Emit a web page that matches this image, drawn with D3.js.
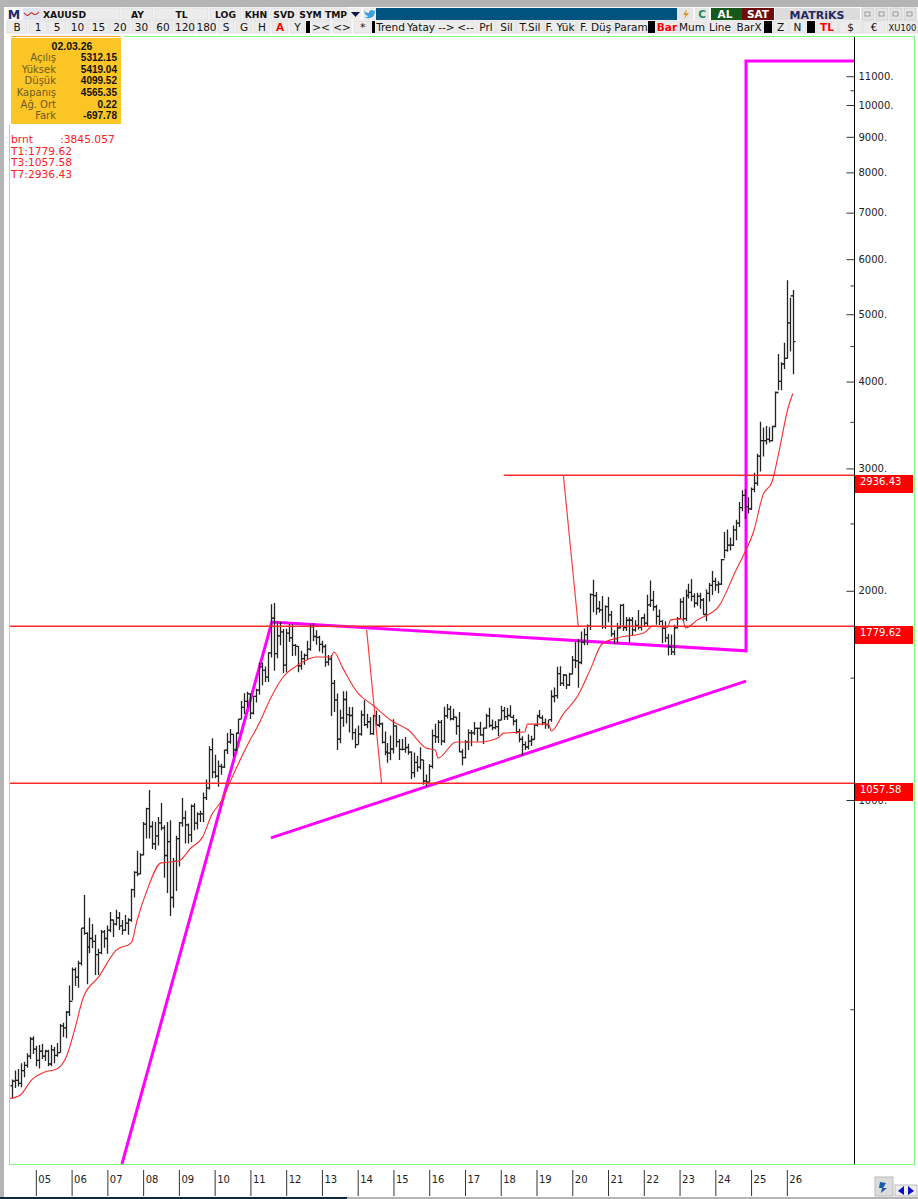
<!DOCTYPE html>
<html lang="tr">
<head>
<meta charset="UTF-8">
<title>XAUUSD</title>
<script src="https://d3js.org/d3.v7.min.js"></script>
<style>
html, body { margin: 0; padding: 0; background: #fff; overflow: hidden; }
svg { display: block; }
svg text { font-family: "DejaVu Sans", sans-serif; }
.tb text { font-size: 10.5px; fill: #111; text-anchor: middle; }
.axis path { display: none; }
</style>
</head>
<body>
<svg id="chart" width="918" height="1199"></svg>
<script>
// monthly bars, first one is May 2004
var firstYear = 2004, firstMonth = 4;

var opens = [
  388,394,395,391,408,415,428,453,
  438,422,435,428,435,417,437,429,433,473,470,495,
  513,570,556,582,654,643,614,632,626,599,603,646,
  632,650,672,663,677,659,650,665,672,743,787,783,
  834,923,972,916,865,888,927,912,832,871,724,816,
  880,927,942,921,891,980,926,954,955,1008,1040,1182,
  1097,1082,1118,1115,1180,1212,1243,1181,1248,1307,1359,1386,
  1421,1333,1410,1439,1556,1536,1502,1628,1826,1624,1722,1746,
  1563,1738,1711,1669,1664,1559,1597,1615,1648,1776,1719,1714,
  1675,1663,1579,1595,1472,1393,1223,1313,1395,1327,1323,1250,
  1201,1244,1326,1284,1296,1246,1322,1282,1287,1210,1172,1168,
  1184,1278,1213,1183,1183,1190,1172,1095,1133,1115,1142,1065,
  1061,1118,1238,1233,1293,1215,1322,1351,1309,1316,1277,1173,
  1151,1211,1249,1249,1268,1268,1241,1269,1321,1280,1271,1275,
  1303,1345,1318,1323,1315,1298,1253,1223,1201,1192,1215,1222,
  1282,1321,1313,1292,1284,1305,1409,1413,1520,1472,1513,1464,
  1517,1589,1586,1577,1686,1730,1781,1975,1968,1886,1878,1776,
  1898,1847,1734,1707,1769,1906,1770,1814,1814,1757,1783,1774,
  1829,1797,1909,1937,1897,1837,1807,1766,1711,1661,1633,1769,
  1824,1928,1824,1969,1990,1963,1919,1965,1940,1849,1983,2036,
  2063,2039,2044,2217,2286,2327,2326,2447,2503,2634,2743,2643,
  2624,2798,2857,3124,3289,3289,3303,3290,3447,3858,4003,4240,
  4320,4858,5312.15
];
var highs = [
  396,408,410,418,420,432,456,457,
  443,444,446,437,437,444,441,447,476,478,497,541,
  574,574,587,654,730,645,677,663,640,611,650,650,
  660,690,673,695,690,672,683,676,745,790,845,838,
  930,975,1034,932,930,945,990,920,930,935,825,888,
  930,1007,965,925,985,989,960,965,1025,1070,1195,1227,
  1162,1140,1128,1181,1249,1265,1245,1250,1308,1388,1424,1431,
  1424,1412,1446,1576,1577,1556,1632,1912,1921,1805,1804,1762,
  1764,1791,1792,1677,1666,1640,1625,1695,1790,1796,1755,1723,
  1695,1675,1617,1617,1488,1423,1348,1434,1434,1361,1361,1267,
  1280,1345,1392,1331,1315,1326,1345,1325,1293,1255,1208,1238,
  1307,1280,1224,1224,1232,1205,1175,1170,1157,1191,1142,1088,
  1127,1263,1287,1304,1304,1362,1375,1367,1353,1318,1338,1183,
  1220,1264,1261,1295,1271,1296,1270,1331,1357,1306,1299,1307,
  1366,1361,1356,1369,1326,1309,1266,1235,1214,1243,1237,1284,
  1326,1347,1324,1310,1304,1439,1452,1555,1557,1518,1516,1525,
  1611,1689,1704,1747,1765,1789,1984,2075,1992,1933,1965,1906,
  1959,1871,1755,1798,1912,1916,1834,1832,1834,1814,1877,1830,
  1853,1974,2070,1998,1909,1879,1814,1808,1735,1730,1787,1833,
  1949,1960,2009,2048,2079,1983,1987,1987,1953,2009,2052,2135,
  2088,2065,2222,2431,2450,2387,2483,2531,2685,2790,2801,2726,
  2817,2956,3148,3500,3435,3452,3439,3453,3871,4381,4264,4550,
  5595,5280,5419.04
];
var lows = [
  372,385,387,386,399,412,424,431,
  414,411,424,421,414,414,418,427,433,456,454,489,
  515,540,537,578,640,543,602,612,560,560,600,613,
  601,645,635,660,650,640,648,640,668,724,777,782,
  832,880,880,850,847,860,905,773,735,681,700,740,
  802,915,866,866,870,905,908,930,930,1000,1035,1075,
  1075,1045,1087,1112,1165,1205,1155,1175,1243,1309,1330,1360,
  1308,1328,1381,1417,1462,1478,1478,1604,1534,1600,1670,1523,
  1527,1688,1612,1613,1527,1540,1565,1590,1640,1692,1672,1636,
  1626,1555,1562,1321,1338,1180,1207,1275,1288,1251,1221,1187,
  1202,1237,1278,1268,1241,1240,1281,1273,1206,1160,1131,1141,
  1167,1191,1142,1178,1169,1162,1072,1077,1098,1107,1052,1046,
  1061,1110,1208,1208,1199,1208,1310,1301,1302,1241,1171,1122,
  1147,1180,1195,1240,1214,1237,1204,1266,1271,1260,1264,1236,
  1302,1303,1303,1315,1281,1245,1211,1160,1180,1182,1196,1221,
  1276,1311,1281,1266,1267,1296,1382,1400,1459,1459,1445,1459,
  1517,1548,1451,1568,1670,1671,1757,1863,1848,1860,1764,1764,
  1802,1717,1677,1677,1765,1750,1750,1684,1722,1746,1759,1753,
  1780,1780,1895,1872,1787,1785,1681,1688,1614,1617,1616,1765,
  1824,1804,1809,1950,1932,1893,1903,1884,1848,1810,1931,1973,
  2001,1984,2039,2228,2277,2286,2319,2364,2471,2603,2536,2583,
  2614,2773,2833,2970,3120,3247,3268,3281,3437,3887,3886,4170,
  4313,4420,4099.52
];
var closes = [
  394,395,391,408,415,428,453,438,
  422,435,428,435,417,437,429,433,473,470,495,513,
  570,556,582,654,643,614,632,626,599,603,646,632,
  650,672,663,677,659,650,665,672,743,787,783,834,
  923,972,916,865,888,927,912,832,871,724,816,880,
  927,942,921,891,980,926,954,955,1008,1040,1182,1097,
  1082,1118,1115,1180,1212,1243,1181,1248,1307,1359,1386,1421,
  1333,1410,1439,1556,1536,1502,1628,1826,1624,1722,1746,1563,
  1738,1711,1669,1664,1559,1597,1615,1648,1776,1719,1714,1675,
  1663,1579,1595,1472,1393,1223,1313,1395,1327,1323,1250,1201,
  1244,1326,1284,1296,1246,1322,1282,1287,1210,1172,1168,1184,
  1278,1213,1183,1183,1190,1172,1095,1133,1115,1142,1065,1061,
  1118,1238,1233,1293,1215,1322,1351,1309,1316,1277,1173,1151,
  1211,1249,1249,1268,1268,1241,1269,1321,1280,1271,1275,1303,
  1345,1318,1323,1315,1298,1253,1223,1201,1192,1215,1222,1282,
  1321,1313,1292,1284,1305,1409,1413,1520,1472,1513,1464,1517,
  1589,1586,1577,1686,1730,1781,1975,1968,1886,1878,1776,1898,
  1847,1734,1707,1769,1906,1770,1814,1814,1757,1783,1774,1829,
  1797,1909,1937,1897,1837,1807,1766,1711,1661,1633,1769,1824,
  1928,1824,1969,1990,1963,1919,1965,1940,1849,1983,2036,2063,
  2039,2044,2217,2286,2327,2326,2447,2503,2634,2743,2643,2624,
  2798,2857,3124,3289,3289,3303,3290,3447,3858,4003,4240,4320,
  4858,5312,4565.35
];

var maBars = [-0.7,2.7,6.7,11,15,18.5,21,24,29,35,40,42,45,50,56,60,64,67,70.5,73,79,83,87,91,96,102,107,108,111,116,121,127.5,133,139,142,143,149,157,163,165,172,173,180,181,185,190,194,198,203,212,215,220,221,225,226,230,237,243,245,249,252,255,257,260.5,262];
var maValues = [372,376,396,406,410,430,467,521,556,608,623,672,735,812,817,853,885,952,1000,1058,1200,1291,1407,1503,1564,1606,1606,1633,1548,1426,1370,1299,1261,1188,1180,1149,1212,1212,1228,1248,1253,1286,1286,1257,1330,1416,1539,1677,1710,1739,1779,1773,1816,1822,1768,1816,1896,2143,2230,2446,2748,2868,3116,3677,3845];

// levels and hand drawn lines: T1, T3, T7
var levels = [1779.62, 1057.58, 2936.43];
var levelStart = [-0.7, -0.7, 165];
var magentaBars = [36.9, 87.2, 246.3, 246.3, 282.6];
var magentaValues = [299.4, 1803, 1639, 11569, 11569];
var supportBars = [86.9, 246.3];
var supportValues = [882, 1483];
var redLines = [
  {bars: [119, 124], values: [1757, 1057.58]},
  {bars: [185, 190], values: [2936.43, 1779.62]}
];

var yLabels = [1000, 2000, 3000, 4000, 5000, 6000, 7000, 8000, 9000, 10000, 11000];
var yMinor = [500, 1500, 2500, 3500, 4500, 5500, 10500];
var yearLabels = ["05","06","07","08","09","10","11","12","13","14","15","16","17","18","19","20","21","22","23","24","25","26"];

var infoDate = "02.03.26";
var infoLabels = ["Açılış", "Yüksek", "Düşük", "Kapanış", "Ağ. Ort", "Fark"];
var infoValues = ["5312.15", "5419.04", "4099.52", "4565.35", "0.22", "-697.78"];
var redTexts = ["brnt        :3845.057", "T1:1779.62", "T3:1057.58", "T7:2936.43"];

var row1 = ["XAUUSD","AY","TL","LOG","KHN","SVD","SYM","TMP"];
var row1X = [42,122,155,210,243,271,299,324];
var row1W = [78,31,53,31,26,26,23,24];
var row2 = ["B","1","5","10","15","20","30","60","120","180","S","G","H","A","Y","><","<>","*","Trend","Yatay","-->","<--","Prl","Sil","T.Sil","F. Yük","F. Düş","Param","Bar","Mum","Line","BarX","Z","N","TL","$","€","XU100"];
var row2X = [7,29,48,68,88,110,132,153,175,197,218,236,254,272,290,312,333,354,376,406,438,457,476,497,517,544,577,615,656,679,706,735,773,789,816,839,863,887];
var row2W = [20,18,18,19,21,20,19,20,20,19,16,16,16,16,15,18,18,17,29,30,17,17,20,19,26,32,37,32,22,26,28,28,15,17,22,23,22,31];
var row2Sep = [306,372,648,764,807];
var row2SepW = [4,3,7,8,8];
var redButtons = ["A", "Bar", "TL"];

var svg = d3.select("#chart");

// scales
var x = d3.scaleLinear().domain([0, 262]).range([12, 792.8]);
var y = d3.scaleLog().domain([1000, 10000]).range([800, 105]);

// window frame
svg.append("rect").attr("width", 918).attr("height", 1199).attr("fill", "#fff");
svg.append("rect").attr("width", 918).attr("height", 7).attr("fill", "#b4b4b4");
svg.append("rect").attr("width", 4).attr("height", 1199).attr("fill", "#b4b4b4");
svg.append("rect").attr("x", 0).attr("y", 1197).attr("width", 918).attr("height", 2).attr("fill", "#b4b4b4");
svg.append("rect").attr("x", 0).attr("y", 1197).attr("width", 347).attr("height", 2).attr("fill", "#0c2a44");

// chart area
svg.append("rect").attr("x", 9.5).attr("y", 36.5).attr("width", 905).attr("height", 1128)
  .attr("fill", "#fff").attr("stroke", "#7dfa7d").attr("stroke-width", 1);
svg.append("rect").attr("x", 8).attr("y", 35).attr("width", 116).attr("height", 3).attr("fill", "#fff");
svg.append("rect").attr("x", 8).attr("y", 35).attr("width", 3).attr("height", 90).attr("fill", "#fff");
svg.append("line").attr("x1", 11).attr("x2", 121).attr("y1", 36.5).attr("y2", 36.5).attr("stroke", "#f5a623");

svg.append("clipPath").attr("id", "plot").append("rect")
  .attr("x", 10).attr("y", 37).attr("width", 844).attr("height", 1127);
var plot = svg.append("g").attr("clip-path", "url(#plot)");

var line = d3.line().x(function (d) { return x(d[0]); }).y(function (d) { return y(d[1]); });

plot.append("path")
  .attr("d", line(d3.zip(magentaBars, magentaValues)))
  .attr("fill", "none").attr("stroke", "#ff00ff").attr("stroke-width", 3);
plot.append("path")
  .attr("d", line(d3.zip(supportBars, supportValues)))
  .attr("fill", "none").attr("stroke", "#ff00ff").attr("stroke-width", 3);

// ohlc bars
var bars = plot.append("g").attr("stroke", "#222").attr("stroke-width", 1.3);
bars.selectAll("path").data(d3.range(opens.length)).enter().append("path")
  .attr("fill", "none")
  .attr("d", function (i) {
    var cx = Math.round(x(i)) + 0.5;
    return "M" + cx + "," + y(highs[i]) + "V" + y(lows[i]) +
      "M" + (cx - 2) + "," + y(opens[i]) + "H" + cx +
      "M" + cx + "," + y(closes[i]) + "H" + (cx + 2);
  });

var maLine = d3.line().curve(d3.curveMonotoneX)
  .x(function (d) { return x(d[0]); }).y(function (d) { return y(d[1]); });
plot.append("path")
  .attr("d", maLine(d3.zip(maBars, maValues)))
  .attr("fill", "none").attr("stroke", "#f82c2c").attr("stroke-width", 1.1);

// T1 T3 T7 levels
plot.selectAll(".level").data(levels).enter().append("line")
  .attr("class", "level")
  .attr("x1", function (d, i) { return x(levelStart[i]); })
  .attr("x2", 854)
  .attr("y1", function (d) { return Math.round(y(d)) + 0.3; })
  .attr("y2", function (d) { return Math.round(y(d)) + 0.3; })
  .attr("stroke", "#fa2a2a").attr("stroke-width", 1.4);
plot.selectAll(".slant").data(redLines).enter().append("path")
  .attr("class", "slant")
  .attr("d", function (d) { return line(d3.zip(d.bars, d.values)); })
  .attr("fill", "none").attr("stroke", "#fb3f3f").attr("stroke-width", 1.2);

// price axis
var yAxis = svg.append("g").attr("class", "axis")
  .attr("transform", "translate(854.5,0)")
  .call(d3.axisLeft(y).tickValues(yLabels.concat(yMinor)).tickFormat(function (d) {
    return yLabels.indexOf(d) >= 0 ? d + "." : "";
  }));
yAxis.selectAll("line")
  .attr("x2", function (d) { return yLabels.indexOf(d) >= 0 ? -8 : -4; })
  .attr("stroke", "#333");
yAxis.selectAll("text")
  .attr("x", 4).attr("text-anchor", "start")
  .style("font-size", "10px").style("font-family", "DejaVu Sans").attr("fill", "#222");
svg.append("line").attr("x1", 854.5).attr("x2", 854.5).attr("y1", 37).attr("y2", 1164)
  .attr("stroke", "#000").attr("stroke-width", 1);

// red level boxes
var boxes = svg.selectAll(".box").data(levels).enter().append("g").attr("class", "box")
  .attr("transform", function (d) { return "translate(855," + Math.round(y(d)) + ")"; });
boxes.append("rect").attr("width", 58).attr("height", 18).attr("fill", "#fe0000");
boxes.append("text").attr("x", 5).attr("y", 10).text(function (d) { return d; })
  .style("font-size", "10px").attr("fill", "#fff");

// year axis
var yearAxis = svg.append("g").attr("class", "axis")
  .attr("transform", "translate(0,1170)")
  .call(d3.axisBottom(x)
    .tickValues(yearLabels.map(function (d, i) { return (2005 + i - firstYear) * 12 - firstMonth; }))
    .tickSize(26)
    .tickFormat(function (d, i) { return yearLabels[i]; }));
yearAxis.selectAll("line").attr("stroke", "#333");
yearAxis.selectAll("text")
  .attr("x", 2).attr("y", 13).attr("dy", 0).attr("text-anchor", "start")
  .style("font-size", "10px").style("font-family", "DejaVu Sans").attr("fill", "#222");

// info panel
var info = svg.append("g");
info.append("rect").attr("x", 11).attr("y", 38).attr("width", 110).attr("height", 86).attr("fill", "#fcc526");
info.append("text").attr("x", 72).attr("y", 49.5).attr("text-anchor", "middle")
  .style("font-size", "10.5px").style("font-weight", "bold").style("font-family", "Liberation Sans")
  .attr("fill", "#111").text(infoDate);
info.selectAll(".il").data(infoLabels).enter().append("text").attr("class", "il")
  .attr("x", 56).attr("y", function (d, i) { return 61 + i * 11.65; })
  .attr("text-anchor", "end").style("font-size", "10px").attr("fill", "#6b5a1e").text(function (d) { return d; });
info.selectAll(".iv").data(infoValues).enter().append("text").attr("class", "iv")
  .attr("x", 117).attr("y", function (d, i) { return 61 + i * 11.65; })
  .attr("text-anchor", "end").style("font-size", "10px").style("font-weight", "bold").style("font-family", "Liberation Sans")
  .attr("fill", "#111").text(function (d) { return d; });

svg.selectAll(".rt").data(redTexts).enter().append("text").attr("class", "rt")
  .attr("x", 11).attr("y", function (d, i) { return 143 + i * 11.7; })
  .style("white-space", "pre")
  .style("font-size", "10.7px").attr("fill", "#fe2020").text(function (d) { return d; });

// toolbars
var tb = svg.append("g").attr("class", "tb");
tb.append("rect").attr("x", 5).attr("y", 7).attr("width", 913).attr("height", 27).attr("fill", "#fafafa");
tb.append("rect").attr("x", 376).attr("y", 8).attr("width", 301).attr("height", 12).attr("fill", "#00527f");

function buttons(labels, xs, ws, top, h, bold) {
  var g = tb.selectAll(null).data(labels).enter().append("g");
  g.append("rect").attr("x", function (d, i) { return xs[i]; }).attr("y", top)
    .attr("width", function (d, i) { return ws[i]; }).attr("height", h)
    .attr("fill", "#ececec").attr("stroke", "#d6d6d6").attr("stroke-width", 0.6);
  g.append("text")
    .attr("x", function (d, i) { return d == "XAUUSD" ? xs[i] + 1 : xs[i] + ws[i] / 2; })
    .attr("y", top + h - 2.5)
    .style("text-anchor", function (d) { return d == "XAUUSD" ? "start" : "middle"; })
    .style("font-size", bold ? "9.2px" : null)
    .style("fill", function (d) { return !bold && redButtons.indexOf(d) >= 0 ? "#f00" : "#111"; })
    .style("font-weight", function (d) { return bold || redButtons.indexOf(d) >= 0 ? "bold" : "normal"; })
    .text(function (d) { return d; })
    .filter(function (d) { return d == "XU100"; }).style("font-size", "8.4px");
}
buttons(row1, row1X, row1W, 8, 12, true);
buttons(row2, row2X, row2W, 21, 12, false);
tb.selectAll(".sep").data(row2Sep).enter().append("rect").attr("class", "sep")
  .attr("x", function (d) { return d; }).attr("y", 21)
  .attr("width", function (d, i) { return row2SepW[i]; }).attr("height", 12).attr("fill", "#000");

// left icons
tb.append("text").attr("x", 14).attr("y", 19).style("font-size", "12.5px").style("font-weight", "bold").style("fill", "#1d2a6e").text("M");
tb.append("rect").attr("x", 23).attr("y", 8).attr("width", 18).attr("height", 12).attr("fill", "#dfe3ee");
tb.append("path").attr("d", d3.line().curve(d3.curveBasis)([[24,13],[28,17],[31,11],[35,16],[39,12]]))
  .attr("fill", "none").attr("stroke", "#c33").attr("stroke-width", 1.2);
tb.append("rect").attr("x", 349).attr("y", 8).attr("width", 12).attr("height", 12).attr("fill", "#ececec");
tb.append("path").attr("d", "M351,12h9l-4.5,5z").attr("fill", "#14143c");
tb.append("rect").attr("x", 363).attr("y", 8).attr("width", 13).attr("height", 12).attr("fill", "#ececec");
tb.append("path").attr("d", "M364,11c3,2 4,2 5,2c0,-3 3,-4 5,-2l1.5,-1l-1,2l1,0l-1,1c0,4 -5,7 -10,4c2,0 3,0 4,-1c-2,0 -3,-1 -4,-3l1,0c-1,-1 -2,-1 -1.5,-2z").attr("fill", "#3aa0dc");

// right side buttons
tb.append("rect").attr("x", 677).attr("y", 8).attr("width", 16).attr("height", 12).attr("fill", "#e6e6e6");
tb.append("path").attr("d", "M687,9l-4,6h2.5l-1.5,4l5,-6h-3z").attr("fill", "#e09a1a");
tb.append("rect").attr("x", 695).attr("y", 8).attr("width", 14).attr("height", 12).attr("fill", "#e6e6e6");
tb.append("text").attr("x", 702).attr("y", 18).style("font-weight", "bold").style("fill", "#1f8a5a").text("C");
tb.append("rect").attr("x", 711).attr("y", 8).attr("width", 31).attr("height", 12).attr("fill", "#14591a");
tb.append("text").attr("x", 725).attr("y", 18).style("font-weight", "bold").style("fill", "#fff").text("AL");
tb.append("rect").attr("x", 742).attr("y", 8).attr("width", 32).attr("height", 12).attr("fill", "#6e0c0c");
tb.append("text").attr("x", 758).attr("y", 18).style("font-weight", "bold").style("fill", "#fff").text("SAT");
tb.append("rect").attr("x", 775).attr("y", 8).attr("width", 85).attr("height", 12).attr("fill", "#dcdcdc");
tb.append("text").attr("x", 817).attr("y", 18.5).style("font-weight", "bold").style("font-size", "11px").style("fill", "#25285e").text("MATRiKS");
tb.selectAll(".wb").data([862, 876, 890, 904]).enter().append("rect").attr("class", "wb")
  .attr("x", function (d) { return d; }).attr("y", 8).attr("width", 12).attr("height", 12)
  .attr("fill", "#e4e4e4").attr("stroke", "#bbb").attr("stroke-width", 0.6);
tb.selectAll(".wi").data([866, 880, 894, 908]).enter().append("rect").attr("class", "wi")
  .attr("x", function (d) { return d - 1; }).attr("y", 12).attr("width", 5).attr("height", 4)
  .attr("fill", "none").attr("stroke", "#888").attr("stroke-width", 0.8);

// corner buttons
svg.append("rect").attr("x", 875).attr("y", 1177).attr("width", 18).attr("height", 19).attr("fill", "#dcdcdc").attr("stroke", "#bbb");
svg.append("path").attr("d", "M880,1182l6,1l-3,5l4,0l-6,5l1,-5l-3,0z").attr("fill", "#1c5aa8");
svg.append("rect").attr("x", 895).attr("y", 1185).attr("width", 22).attr("height", 11).attr("fill", "#eee").attr("stroke", "#bbb");
svg.append("path").attr("d", "M904,1186l-6,5l6,4z").attr("fill", "#0a0ac8");
svg.append("path").attr("d", "M908,1186l6,5l-6,4z").attr("fill", "#0a0ac8");
</script>
</body>
</html>
